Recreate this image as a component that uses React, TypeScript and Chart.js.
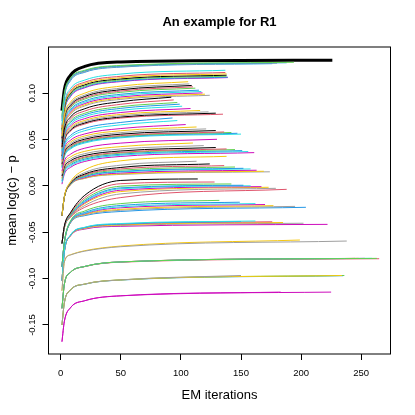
import React, { useEffect, useRef } from 'react';
import { Chart, registerables } from 'chart.js';

Chart.register(...registerables);

const FONT = '"Liberation Sans", Arial, Helvetica, sans-serif';

// R default palette (colour index 0..7)
const palette = ['#000000', '#DF536B', '#61D04F', '#2297E6', '#28E2E5', '#CD0BBC', '#F5C710', '#9E9E9E'];

const xTicks = [0, 50, 100, 150, 200, 250];
const yTicks = [-0.15, -0.1, -0.05, 0, 0.05, 0.1];
const yTickLabels = ['-0.15', '-0.10', '-0.05', '0.00', '0.05', '0.10'];

// iterations at which every curve is read
const readIters = [1, 3, 8, 20, 50];

// each curve row: [colour index, value at 1, 3, 8, 20, 50, final value, last iteration]
const curvesBest = [[0, 0.0814, 0.1042, 0.1194, 0.129, 0.1338, 0.1357, 226]];

const curvesA = [
  [2, 0.076, 0.1002, 0.1163, 0.1249, 0.1301, 0.1335, 194],
  [3, 0.074, 0.0988, 0.1153, 0.1242, 0.1295, 0.133, 188],
  [7, 0.072, 0.0974, 0.1144, 0.1234, 0.1289, 0.1325, 180],
  [3, 0.07, 0.096, 0.1134, 0.1227, 0.1283, 0.132, 176],
];

const curvesB = [
  [4, 0.066, 0.0896, 0.1049, 0.1143, 0.1208, 0.1249, 137],
  [1, 0.0643, 0.0876, 0.1027, 0.112, 0.1184, 0.1225, 137],
  [6, 0.0627, 0.086, 0.1012, 0.1105, 0.1169, 0.121, 138],
  [0, 0.061, 0.0844, 0.0997, 0.1091, 0.1155, 0.1196, 138],
  [2, 0.0593, 0.083, 0.0984, 0.1078, 0.1144, 0.1185, 138],
  [3, 0.0577, 0.0816, 0.0972, 0.1067, 0.1133, 0.1175, 139],
  [5, 0.056, 0.0804, 0.0963, 0.106, 0.1127, 0.117, 139],
];

const curvesC = [
  [6, 0.054, 0.0762, 0.0903, 0.1002, 0.1078, 0.1125, 106],
  [7, 0.0528, 0.0746, 0.0884, 0.0981, 0.1056, 0.1102, 107],
  [0, 0.0516, 0.0732, 0.0869, 0.0966, 0.1039, 0.1085, 109],
  [1, 0.0504, 0.0719, 0.0855, 0.0951, 0.1025, 0.107, 110],
  [2, 0.0492, 0.0706, 0.0842, 0.0938, 0.1011, 0.1056, 112],
  [3, 0.048, 0.0691, 0.0823, 0.0918, 0.099, 0.1034, 115],
  [4, 0.0468, 0.0678, 0.081, 0.0904, 0.0976, 0.102, 117],
  [5, 0.0456, 0.0665, 0.0796, 0.089, 0.0961, 0.1005, 118],
  [6, 0.0444, 0.0652, 0.0783, 0.0876, 0.0947, 0.0991, 120],
  [7, 0.0432, 0.064, 0.0771, 0.0864, 0.0935, 0.0979, 124],
];

const curvesD = [
  [0, 0.042, 0.0614, 0.0743, 0.0834, 0.091, 0.0958, 92],
  [1, 0.0408, 0.0596, 0.0721, 0.0809, 0.0882, 0.0929, 94],
  [2, 0.0396, 0.0578, 0.0699, 0.0785, 0.0856, 0.0901, 97],
  [3, 0.0384, 0.0564, 0.0683, 0.0768, 0.0838, 0.0883, 99],
  [4, 0.0372, 0.0548, 0.0665, 0.0749, 0.0817, 0.0861, 101],
  [5, 0.036, 0.0531, 0.0646, 0.0727, 0.0793, 0.0836, 108],
  [6, 0.0348, 0.0516, 0.0628, 0.0708, 0.0773, 0.0815, 116],
  [7, 0.0336, 0.0503, 0.0614, 0.0693, 0.0758, 0.08, 123],
  [0, 0.0324, 0.049, 0.0601, 0.068, 0.0744, 0.0786, 129],
  [1, 0.0312, 0.0479, 0.059, 0.0669, 0.0733, 0.0775, 135],
];

const curvesE = [
  [3, 0.03, 0.0448, 0.0543, 0.0621, 0.0686, 0.0734, 93],
  [4, 0.0288, 0.043, 0.0522, 0.0597, 0.066, 0.0706, 97],
  [5, 0.0276, 0.0408, 0.0493, 0.0562, 0.062, 0.0663, 104],
  [6, 0.0264, 0.0391, 0.0473, 0.054, 0.0596, 0.0637, 113],
  [7, 0.0252, 0.0376, 0.0456, 0.0521, 0.0576, 0.0616, 121],
  [0, 0.024, 0.0362, 0.044, 0.0505, 0.0559, 0.0598, 129],
  [1, 0.0228, 0.0349, 0.0427, 0.0491, 0.0544, 0.0583, 136],
  [2, 0.0216, 0.0339, 0.0418, 0.0483, 0.0537, 0.0577, 142],
  [3, 0.0204, 0.0328, 0.0408, 0.0474, 0.0529, 0.0569, 147],
  [4, 0.0192, 0.0317, 0.0398, 0.0464, 0.052, 0.056, 150],
];

const curvesF = [
  [5, 0.016, 0.027, 0.0342, 0.0408, 0.0463, 0.0504, 130],
  [6, 0.0143, 0.0246, 0.0313, 0.0374, 0.0425, 0.0464, 110],
  [7, 0.0125, 0.0225, 0.029, 0.0349, 0.0399, 0.0436, 119],
  [0, 0.0108, 0.0206, 0.0271, 0.0329, 0.0378, 0.0415, 129],
  [1, 0.009, 0.0189, 0.0254, 0.0313, 0.0363, 0.04, 138],
  [2, 0.0073, 0.0175, 0.0243, 0.0303, 0.0355, 0.0393, 145],
  [3, 0.0055, 0.016, 0.0228, 0.029, 0.0343, 0.0382, 151],
  [4, 0.0038, 0.0145, 0.0215, 0.0278, 0.0332, 0.0372, 156],
  [5, 0.002, 0.0129, 0.02, 0.0265, 0.0319, 0.036, 161],
];

const curvesG = [
  [6, -0.032, -0.0113, 0.0044, 0.0174, 0.0272, 0.032, 138],
  [7, -0.032, -0.0115, 0.0034, 0.0145, 0.0225, 0.0267, 113],
  [0, -0.032, -0.0117, 0.0028, 0.0129, 0.02, 0.0238, 124],
  [1, -0.032, -0.0118, 0.0024, 0.0119, 0.0184, 0.022, 136],
  [2, -0.032, -0.0118, 0.0021, 0.0111, 0.0171, 0.0205, 145],
  [3, -0.032, -0.0119, 0.0019, 0.0103, 0.0158, 0.0191, 152],
  [4, -0.032, -0.0119, 0.0017, 0.0099, 0.0152, 0.0184, 158],
  [5, -0.032, -0.012, 0.0014, 0.0091, 0.014, 0.017, 163],
  [6, -0.032, -0.0121, 0.0012, 0.0085, 0.013, 0.0159, 169],
  [7, -0.032, -0.0121, 0.0011, 0.0082, 0.0125, 0.0153, 174],
];

const curvesH = [
  [0, -0.062, -0.043, -0.029, -0.01, 0.006, 0.0076, 114],
  [1, -0.062, -0.0435, -0.03, -0.0125, 0.0025, 0.0043, 128],
  [2, -0.062, -0.044, -0.031, -0.0145, -0.0002, 0.0022, 142],
  [3, -0.062, -0.044, -0.0315, -0.016, -0.002, 0.0008, 152],
  [4, -0.062, -0.0445, -0.032, -0.017, -0.003, 0.0002, 158],
  [5, -0.062, -0.0445, -0.0325, -0.018, -0.0045, -0.0007, 167],
  [6, -0.062, -0.045, -0.033, -0.019, -0.006, -0.0014, 173],
  [7, -0.062, -0.045, -0.0335, -0.021, -0.0085, -0.0025, 179],
  [1, -0.062, -0.045, -0.034, -0.023, -0.0125, -0.0036, 188],
];

const curvesI = [
  [2, -0.087, -0.06, -0.038, -0.027, -0.019, -0.0155, 132],
  [3, -0.087, -0.0605, -0.0385, -0.0285, -0.021, -0.0175, 149],
  [4, -0.087, -0.0605, -0.039, -0.0295, -0.0225, -0.019, 162],
  [5, -0.087, -0.061, -0.0393, -0.03, -0.0235, -0.02, 170],
  [6, -0.087, -0.061, -0.0396, -0.0307, -0.0252, -0.0212, 177],
  [7, -0.087, -0.061, -0.0398, -0.0313, -0.0262, -0.022, 195],
  [3, -0.087, -0.061, -0.04, -0.032, -0.0275, -0.023, 204],
];

const curvesJ = [
  [4, -0.102, -0.0705, -0.053, -0.0445, -0.0405, -0.0378, 162],
  [3, -0.102, -0.0705, -0.0533, -0.0448, -0.041, -0.0383, 150],
  [1, -0.102, -0.071, -0.0535, -0.045, -0.0413, -0.0386, 176],
  [6, -0.102, -0.071, -0.0537, -0.0455, -0.042, -0.0394, 185],
  [7, -0.102, -0.071, -0.0538, -0.046, -0.0427, -0.0402, 202],
  [5, -0.102, -0.071, -0.054, -0.0465, -0.0435, -0.0414, 222],
];

const curvesK = [
  [7, -0.113, -0.082, -0.0745, -0.0703, -0.0655, -0.0594, 238],
  [6, -0.113, -0.0818, -0.0742, -0.0698, -0.0648, -0.0583, 199],
];

const curvesL = [
  [2, -0.132, -0.1058, -0.0933, -0.0868, -0.0819, -0.0781, 263],
  [4, -0.132, -0.1058, -0.0933, -0.0868, -0.0819, -0.0781, 259],
  [5, -0.132, -0.1058, -0.0933, -0.0868, -0.0819, -0.0781, 253],
  [6, -0.132, -0.1058, -0.0933, -0.0868, -0.0819, -0.0781, 248],
  [7, -0.132, -0.1058, -0.0933, -0.0868, -0.0819, -0.0781, 245],
  [1, -0.132, -0.106, -0.0935, -0.087, -0.0822, -0.0785, 265],
];

const curvesM = [
  [7, -0.15, -0.1258, -0.1123, -0.1058, -0.1013, -0.0966, 150],
  [6, -0.15, -0.1258, -0.1123, -0.1058, -0.1013, -0.0966, 234],
  [2, -0.15, -0.1258, -0.1123, -0.1058, -0.1013, -0.0966, 236],
  [3, -0.15, -0.126, -0.1125, -0.106, -0.1015, -0.0968, 235],
];

const curvesN = [
  [5, -0.168, -0.146, -0.1315, -0.1238, -0.1185, -0.1145, 225],
  [5, -0.168, -0.146, -0.1315, -0.1238, -0.1185, -0.1145, 183],
];

const groups: [number[][], number][] = [
  [curvesN, 1],
  [curvesM, 1],
  [curvesL, 1],
  [curvesK, 1],
  [curvesJ, 1],
  [curvesI, 1],
  [curvesH, 1],
  [curvesG, 1],
  [curvesF, 1],
  [curvesE, 1],
  [curvesD, 1],
  [curvesC, 1],
  [curvesB, 1],
  [curvesA, 1],
  [curvesBest, 3],
];

function buildDatasets() {
  const out: any[] = [];
  groups.forEach(([curves, width]) => {
    curves.forEach((c) => {
      const col = c[0];
      const read = c.slice(1, 6);
      const yEnd = c[6];
      const xEnd = c[7];
      const pts = read.map((y, i) => ({ x: readIters[i], y }));
      pts.push({ x: xEnd, y: yEnd });
      out.push({
        data: pts,
        borderColor: palette[col],
        borderWidth: width,
        pointRadius: 0,
        fill: false,
        cubicInterpolationMode: 'monotone',
      });
    });
  });
  return out;
}

const boxPlugin = {
  id: 'rBox',
  afterDatasetsDraw(chart: any) {
    const { ctx, chartArea: a } = chart;
    ctx.save();
    ctx.strokeStyle = '#000';
    ctx.lineWidth = 1;
    ctx.strokeRect(a.left, a.top, a.right - a.left, a.bottom - a.top);
    ctx.restore();
  },
};

export default function App() {
  const ref = useRef<HTMLCanvasElement | null>(null);

  useEffect(() => {
    if (!ref.current) return;
    const chart = new Chart(ref.current, {
      type: 'line',
      data: { datasets: buildDatasets() },
      options: {
        animation: false,
        responsive: false,
        maintainAspectRatio: false,
        devicePixelRatio: 1,
        layout: { padding: { left: 0, right: 24.5, top: 0, bottom: 0 } },
        plugins: {
          legend: { display: false },
          title: { display: false },
          tooltip: { enabled: false },
        },
        elements: { point: { radius: 0 } },
        scales: {
          x: {
            type: 'linear',
            position: 'bottom',
            min: -10.2,
            max: 274.4,
            afterFit: (s: any) => {
              s.height = 61;
            },
            afterBuildTicks: (s: any) => {
              s.ticks = xTicks.map((v) => ({ value: v }));
            },
            ticks: {
              autoSkip: false,
              maxRotation: 0,
              minRotation: 0,
              padding: 8,
              color: '#000',
              font: { family: FONT, size: 9.5 },
              callback: (v: any) => String(v),
            },
            grid: { drawOnChartArea: false, drawTicks: true, tickLength: 6, color: '#000', lineWidth: 1 },
            border: { display: false },
            title: {
              display: true,
              text: 'EM iterations',
              color: '#000',
              font: { family: FONT, size: 13, lineHeight: 1.2 },
              padding: { top: 0, bottom: 12.2 },
            },
          },
          y: {
            type: 'linear',
            position: 'left',
            min: -0.1813,
            max: 0.15,
            afterFit: (s: any) => {
              s.width = 48.5;
            },
            afterBuildTicks: (s: any) => {
              s.ticks = yTicks.map((v) => ({ value: v }));
            },
            ticks: {
              autoSkip: false,
              minRotation: 90,
              maxRotation: 90,
              crossAlign: 'center',
              padding: -1,
              color: '#000',
              font: { family: FONT, size: 9.5 },
              callback: (v: any) => {
                const i = yTicks.findIndex((t) => Math.abs(t - v) < 1e-9);
                return i >= 0 ? yTickLabels[i] : '';
              },
            },
            grid: { drawOnChartArea: false, drawTicks: true, tickLength: 6, color: '#000', lineWidth: 1 },
            border: { display: false },
            title: {
              display: true,
              text: 'mean log(c) \u2212 p',
              color: '#000',
              font: { family: FONT, size: 13, lineHeight: 1.2 },
              padding: { top: 4.2, bottom: 0 },
            },
          },
          top: {
            type: 'linear',
            axis: 'x',
            position: 'top',
            afterFit: (s: any) => {
              s.height = 47;
            },
            ticks: { display: false },
            grid: { display: false },
            border: { display: false },
            title: {
              display: true,
              text: 'An example for R1',
              color: '#000',
              font: { family: FONT, size: 13, weight: 'bold', lineHeight: 1.2 },
              padding: { top: 14.2, bottom: 0 },
            },
          },
        },
      } as any,
      plugins: [boxPlugin],
    });
    return () => chart.destroy();
  }, []);

  return (
    <div style={{ position: 'fixed', left: 0, top: 0, width: 415, height: 415, background: '#fff' }}>
      <canvas ref={ref} width={415} height={415} style={{ display: 'block' }} />
    </div>
  );
}
